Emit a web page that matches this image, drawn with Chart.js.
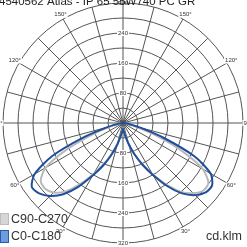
<!DOCTYPE html>
<html>
<head>
<meta charset="utf-8">
<script src="https://cdn.jsdelivr.net/npm/chart.js@4/dist/chart.umd.min.js"></script>
<style>
  html, body { margin: 0; padding: 0; background: #fff; }
  #wrap { width: 247px; height: 247px; position: relative; }
</style>
</head>
<body>
<div id="wrap"><canvas id="chart"></canvas></div>
<script>
'use strict';

// gamma angles (deg from straight down), intensities in cd/klm
const gammas = [0, 5, 10, 15, 20, 25, 30, 35, 40, 45, 50, 55, 60, 65, 70, 75, 80, 85, 90];
const c0 = [15, 22, 35, 58, 88, 122, 160, 205, 245, 272, 288, 290, 270, 210, 115, 48, 18, 7, 3];
const c180 = [15, 22, 35, 60, 90, 125, 162, 208, 248, 275, 292, 297, 272, 208, 112, 45, 17, 6, 3];
const c90 = [15, 22, 35, 58, 88, 122, 158, 200, 240, 265, 280, 278, 245, 168, 85, 33, 12, 5, 2];
const c270 = [15, 22, 35, 58, 88, 120, 156, 198, 238, 262, 272, 268, 238, 162, 82, 32, 12, 5, 2];

const ringTicks = [80, 160, 240, 320];
const angleTicks = [30, 60, 90, 120, 150];
const seriesNames = ['C90-C270', 'C0-C180'];
const titleText = '4540562 Atlas - IP 65 55W740 PC GR';
const unitText = 'cd.klm';

// radar goes clockwise from the top, one spoke every 5 degrees
let labels = [];
for (let d = 0; d < 360; d += 5) labels.push(d);

function plane(right, left) {
  return labels.map(d => {
    let g = d <= 180 ? 180 - d : d - 180;
    let arr = d <= 180 ? right : left;
    let k = gammas.indexOf(g);
    return k >= 0 ? arr[k] : 0; // upper half: no light
  });
}

let canvasElem = document.getElementById('chart');

const textPlugin = {
  id: 'polarText',
  afterDraw(chart) {
    const ctx = chart.ctx;
    const r = chart.scales.r;
    const cx = r.xCenter, cy = r.yCenter;
    ctx.save();

    // title, cut at the top edge
    ctx.font = '11.5px Arial, "Liberation Sans", sans-serif';
    ctx.fillStyle = '#222';
    ctx.textAlign = 'left';
    ctx.textBaseline = 'alphabetic';
    ctx.fillText(titleText, -1, 5);

    // ring values above and below center
    ctx.font = '6px Arial, "Liberation Sans", sans-serif';
    ctx.textAlign = 'center';
    ctx.textBaseline = 'middle';
    ringTicks.forEach(v => {
      const dist = r.getDistanceFromCenterForValue(v);
      [cy - dist, cy + dist].forEach(y => {
        const w = ctx.measureText(String(v)).width + 2;
        if (y > 8) {
          ctx.fillStyle = '#fff';
          ctx.fillRect(cx - w / 2, y - 3, w, 6);
        }
        ctx.fillStyle = '#333';
        ctx.fillText(String(v), cx, y);
      });
    });

    // angle labels just outside the outer ring
    const rad = r.drawingArea + 5;
    angleTicks.forEach(a => {
      const t = a * Math.PI / 180;
      [-1, 1].forEach(s => {
        const x = cx + s * rad * Math.sin(t);
        const y = cy + rad * Math.cos(t);
        const txt = a + '\u00b0';
        const w = ctx.measureText(txt).width + 2;
        ctx.fillStyle = '#fff';
        ctx.fillRect(x - w / 2, y - 3, w, 6);
        ctx.fillStyle = '#333';
        ctx.fillText(txt, x, y);
      });
    });

    // legend bottom left
    ctx.font = '12.5px Arial, "Liberation Sans", sans-serif';
    ctx.textAlign = 'left';
    ctx.lineWidth = 1;
    ctx.fillStyle = '#d6d6d6';
    ctx.strokeStyle = '#bdbdbd';
    ctx.fillRect(0, 213, 9, 12);
    ctx.strokeRect(0.5, 213.5, 8, 11);
    ctx.fillStyle = '#6f9cdb';
    ctx.strokeStyle = '#2a5cad';
    ctx.fillRect(0, 230, 9, 13);
    ctx.strokeRect(0.5, 230.5, 8, 12);
    ctx.fillStyle = '#333';
    ctx.fillText(seriesNames[0], 11, 219.5);
    ctx.fillText(seriesNames[1], 11, 237);

    ctx.textAlign = 'right';
    ctx.fillText(unitText, 242, 237);
    ctx.restore();
  }
};

function renderChart() {
  const data = {
    labels: labels,
    datasets: [
      {
        label: seriesNames[1],
        data: plane(c0, c180),
        borderColor: '#1f4f9c',
        borderWidth: 2,
        pointRadius: 0,
        fill: false,
        tension: 0.25
      },
      {
        label: seriesNames[0],
        data: plane(c90, c270),
        borderColor: '#b9b9b9',
        borderWidth: 2,
        pointRadius: 0,
        fill: false,
        tension: 0.25
      }
    ]
  };
  let config = {
    type: 'radar',
    data: data,
    options: {
      responsive: true,
      maintainAspectRatio: false,
      animation: false,
      layout: { padding: { left: 3, right: 3, top: 3, bottom: 3 } },
      plugins: {
        legend: { display: false },
        title: { display: false },
        tooltip: { enabled: false }
      },
      scales: {
        r: {
          min: 0,
          max: 320,
          startAngle: 0,
          ticks: { stepSize: 40, display: false },
          pointLabels: { display: false },
          grid: { circular: true, color: '#555', lineWidth: 1 },
          angleLines: {
            color: (c) => c.index % 3 === 0 ? '#555' : 'rgba(0,0,0,0)',
            lineWidth: (c) => c.index % 3 === 0 ? 1 : 0
          }
        }
      }
    },
    plugins: [textPlugin]
  };
  let myChart = new Chart(canvasElem, config);
}

renderChart();
</script>
</body>
</html>
